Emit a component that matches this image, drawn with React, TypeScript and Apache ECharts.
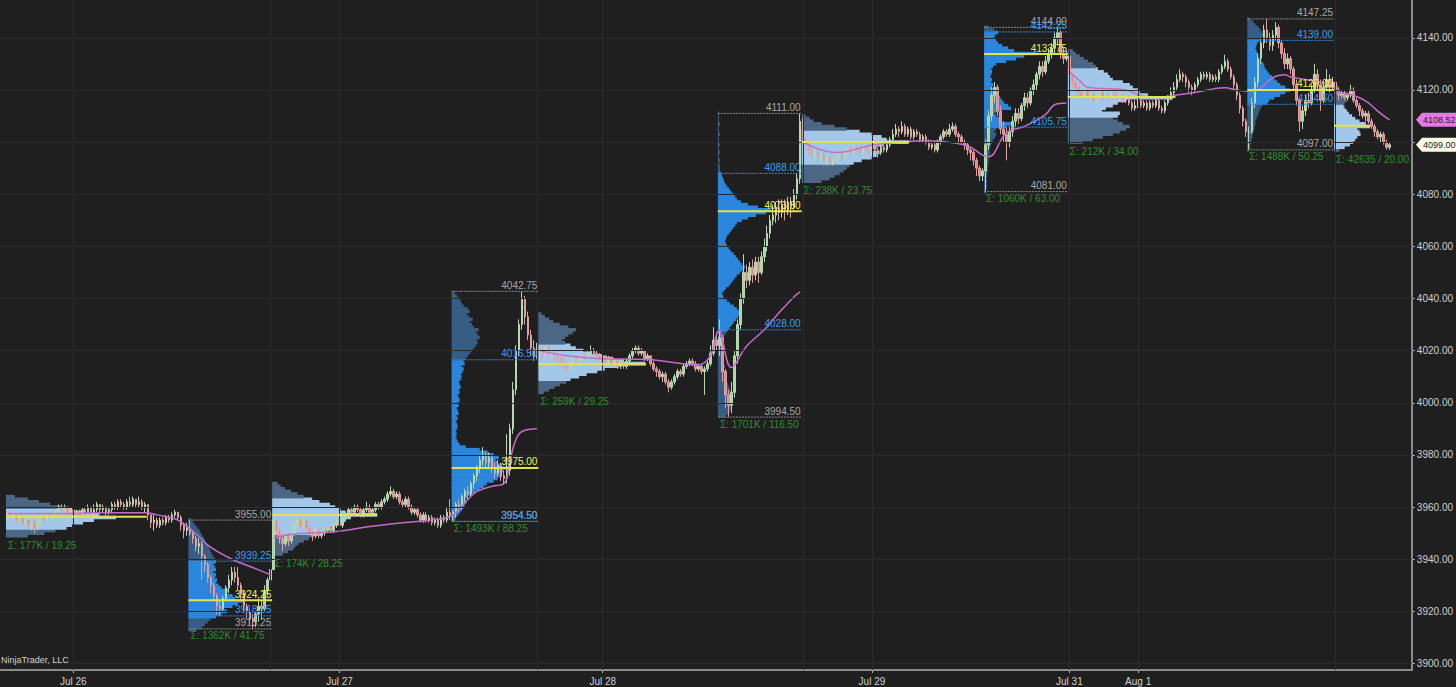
import React, { useEffect, useRef } from 'react';
import * as echarts from 'echarts';

// ---------------- DATA ----------------
const firstOpen = 3956;
// each candle: [close, high, low]; open = previous close
const s1 = [[3957,3958,3955],[3956,3958,3955],[3957,3958,3955],[3955,3957,3954],[3956,3957,3954],[3954,3956,3953],[3955,3956,3953],[3953,3955,3952],[3954,3955,3951],[3952,3955,3950],[3954,3955,3951],[3956,3957,3953],[3955,3957,3954],[3957,3958,3955],[3956,3958,3955],[3957,3958,3955],[3958,3959,3956],[3960,3961,3957],[3959,3961,3958],[3960,3961,3958],[3958,3960,3957],[3959,3960,3957],[3957,3959,3956],[3958,3959,3956],[3957,3959,3956],[3959,3960,3957],[3958,3960,3957],[3960,3961,3957],[3958,3960,3957],[3959,3961,3957],[3961,3962,3958],[3959,3961,3958],[3960,3961,3958],[3958,3960,3956],[3959,3960,3957],[3961,3962,3958],[3960,3962,3959],[3962,3963,3959],[3961,3963,3960],[3960,3962,3959],[3962,3963,3959],[3961,3964,3960],[3963,3964,3960],[3961,3963,3960],[3962,3964,3960],[3960,3963,3959],[3961,3962,3958],[3957,3961,3955],[3954,3957,3952],[3955,3957,3951],[3953,3956,3952],[3955,3956,3952],[3954,3956,3953],[3956,3957,3953],[3955,3957,3954],[3957,3958,3954],[3958,3959,3956],[3956,3958,3955],[3953,3957,3951],[3951,3954,3948],[3952,3954,3949]];
const s2 = [[3950,3955,3949],[3948,3951,3946],[3945,3949,3943],[3946,3948,3942],[3941,3947,3932],[3938,3942,3935],[3933,3939,3931],[3930,3934,3927],[3926,3931,3924],[3922,3927,3919],[3921,3924,3918],[3925,3926,3920],[3929,3930,3924],[3932,3934,3927],[3935,3937,3930],[3933,3937,3931],[3930,3937,3928],[3927,3931,3924],[3922,3928,3920],[3920,3923,3917],[3917,3921,3915],[3916,3919,3913.25],[3919,3920,3914],[3922,3925,3916],[3921,3924,3917],[3928,3930,3920],[3932,3933,3926],[3936,3938,3930]];
const s3 = [[3955,3956,3936],[3951,3955,3949],[3948,3952,3946],[3946,3949,3943],[3949,3950,3945],[3947,3950,3945],[3950,3951,3946],[3953,3954,3949],[3955,3956,3952],[3953,3956,3952],[3955,3956,3952],[3952,3955,3951],[3950,3953,3949],[3949,3951,3947],[3951,3952,3948],[3949,3952,3948],[3950,3951,3948],[3951,3952,3949],[3952,3953,3950],[3951,3953,3950],[3953,3954,3950],[3954,3955,3952],[3953,3955,3952],[3956,3957,3952],[3957,3958,3955],[3959,3960,3956],[3958,3960,3957],[3960,3961,3957],[3959,3961,3958],[3957,3960,3956],[3959,3960,3956],[3960,3962,3958],[3958,3961,3957],[3959,3960,3957],[3961,3962,3958],[3960,3962,3959],[3962,3963,3959],[3963,3964,3961],[3965,3966,3962],[3966,3968,3964],[3964,3967,3963],[3965,3966,3963],[3962,3966,3961],[3961,3963,3960],[3963,3964,3960],[3960,3964,3959],[3958,3961,3957],[3959,3960,3957],[3957,3960,3956],[3955,3958,3954],[3957,3958,3954],[3955,3958,3954],[3956,3957,3954],[3954,3957,3953],[3955,3956,3953],[3953,3956,3952],[3956,3957,3952],[3955,3957,3954],[3958,3960,3954],[3957,3963,3955]];
const s4 = [[3958,3959,3954.5],[3961,3962,3956],[3960,3963,3958],[3964,3965,3959],[3966,3967,3962],[3965,3968,3963],[3969,3970,3964],[3972,3973,3967],[3975,3976,3970],[3978,3980,3973],[3980,3983,3976],[3977,3981,3975],[3979,3981,3975],[3975,3980,3973],[3973,3977,3971],[3976,3978,3972],[3972,3977,3970],[3971,3974,3968.5],[3974,3988,3969],[3990,3992,3972],[4005,4008,3988],[4020,4022,4003],[4030,4032,4018],[4040,4042.75,4028],[4033,4041,4030],[4026,4035,4024],[4021,4028,4018],[4018,4024,4016],[4020,4023,4017]];
const s5 = [[4020,4021,4016],[4019,4021,4017],[4021,4022,4018],[4019,4022,4018],[4020,4021,4018],[4018,4020,4016],[4017,4019,4015],[4016,4018,4014],[4015,4017,4013],[4013,4016,4012],[4015,4016,4012],[4017,4018,4014],[4016,4018,4015],[4017,4018,4015],[4018,4019,4016],[4017,4019,4016],[4019,4020,4016],[4020,4022,4018],[4019,4021,4018],[4018,4020,4017],[4017,4019,4016],[4018,4019,4016],[4016,4018,4015],[4017,4018,4015],[4015,4017,4014],[4016,4017,4014],[4014,4016,4013],[4015,4016,4013],[4014,4016,4013],[4016,4017,4013],[4018,4019,4015],[4020,4021,4017],[4021,4022,4019],[4019,4022,4018],[4020,4021,4018],[4017,4020,4016],[4018,4019,4016],[4015,4018,4014],[4013,4016,4012],[4012,4014,4010],[4010,4013,4009],[4011,4012,4008],[4008,4012,4007],[4006,4009,4004],[4008,4009,4005],[4010,4011,4007],[4012,4013,4009],[4011,4013,4010],[4014,4015,4010],[4015,4016,4013],[4016,4017,4014],[4015,4017,4014],[4013,4016,4012],[4014,4015,4012],[4012,4015,4011],[4013,4014,4003],[4015,4016,4012],[4019,4022,4014],[4024,4029,4018],[4022,4027,4020]];
const s6 = [[4025,4032,4018],[4012,4026,4008],[4003,4013,3998],[3999,4005,3994.5],[4004,4008,3996],[4018,4020,4002],[4030,4032,4015],[4040,4042,4028],[4050,4057,4038],[4047,4053,4044],[4052,4054,4045],[4049,4055,4046],[4054,4056,4047],[4050,4056,4046],[4056,4058,4049],[4060,4063,4054],[4065,4068,4058],[4070,4072,4063],[4072,4076,4068],[4075,4077,4069],[4073,4078,4070],[4076,4078,4071],[4074,4078,4070],[4077,4079,4072],[4075,4079,4071],[4080,4082,4074],[4086,4088,4078],[4108,4111,4084]];
const s7 = [[4101,4109,4099],[4099,4102,4097],[4097,4100,4095],[4095,4098,4093],[4096,4098,4094],[4094,4097,4092],[4095,4096,4092],[4093,4096,4091],[4094,4095,4091],[4092,4095,4091],[4093,4094,4091],[4094,4095,4092],[4095,4096,4093],[4094,4096,4093],[4096,4097,4093],[4097,4098,4095],[4096,4098,4095],[4098,4099,4095],[4097,4099,4096],[4096,4098,4094],[4098,4099,4095],[4097,4099,4096],[4096,4098,4095],[4098,4099,4095],[4097,4099,4096],[4096,4098,4094],[4098,4100,4095],[4097,4099,4096],[4099,4101,4096],[4101,4102,4098],[4103,4105,4100],[4105,4107,4102],[4104,4106,4102],[4106,4108,4103],[4103,4107,4102],[4105,4106,4102],[4102,4106,4101],[4104,4105,4101],[4103,4105,4102],[4101,4104,4100],[4102,4103,4100],[4100,4103,4099],[4098,4101,4097],[4099,4100,4097],[4097,4100,4096],[4100,4101,4096],[4102,4103,4099],[4104,4105,4101],[4103,4105,4102],[4105,4107,4102],[4106,4107.5,4104],[4103,4107,4102],[4102,4104,4100],[4100,4103,4099],[4099,4101,4097],[4097,4100,4095],[4096,4098,4093],[4093,4097,4091],[4090,4094,4087],[4087,4091,4085],[4089,4090,4085]];
const s8 = [[4099,4101,4081],[4110,4112,4097],[4118,4121,4108],[4121,4123,4115],[4112,4122,4110],[4105,4114,4103],[4103,4108,4100],[4100,4106,4093],[4104,4106,4098],[4108,4110,4102],[4111,4113,4106],[4109,4113,4107],[4114,4115,4108],[4117,4119,4112],[4115,4119,4113],[4120,4121,4114],[4122,4124,4118],[4126,4127,4120],[4129,4131,4124],[4127,4131,4125],[4131,4133,4126],[4134,4136,4130],[4136,4138,4132],[4140,4142,4134],[4142,4144,4137],[4134,4143,4132],[4132,4136,4130],[4133,4135,4131]];
const s9 = [[4126,4138,4124],[4123,4127,4121],[4121,4124,4119],[4119,4122,4117],[4118,4120,4116],[4120,4121,4117],[4117,4121,4116],[4118,4119,4116],[4116,4119,4115],[4118,4119,4115],[4119,4120,4117],[4117,4120,4116],[4118,4119,4116],[4117,4119,4116],[4119,4120,4116],[4118,4120,4117],[4117,4119,4116],[4118,4119,4116],[4116,4119,4115],[4117,4118,4115],[4115,4118,4114],[4113,4116,4112],[4114,4116,4112],[4116,4117,4113],[4114,4117,4113],[4115,4116,4113],[4113,4116,4112],[4115,4116,4112],[4114,4116,4113],[4116,4117,4113],[4113,4117,4112],[4112,4114,4111],[4115,4116,4111],[4117,4118,4114],[4119,4121,4116],[4121,4123,4118],[4124,4126,4120],[4126,4128,4123],[4125,4127,4123],[4123,4126,4121],[4121,4124,4119],[4120,4122,4118],[4122,4123,4119],[4124,4125,4121],[4126,4127,4123],[4125,4127,4124],[4126,4127,4124],[4124,4127,4123],[4125,4126,4123],[4124,4126,4123],[4127,4128,4123],[4129,4130,4126],[4131,4133.5,4128],[4128,4132,4127],[4125,4129,4124],[4122,4126,4120],[4118,4123,4116],[4113,4119,4111],[4108,4114,4106],[4104,4109,4102]];
const s10 = [[4104,4106,4097],[4115,4117,4103],[4123,4125,4113],[4132,4134,4121],[4138,4140,4130],[4143,4145,4136],[4140,4147.25,4138],[4137,4142,4135],[4141,4143,4135],[4144,4146,4139],[4138,4145,4136],[4134,4139,4132],[4130,4136,4128],[4132,4134,4128],[4128,4133,4126],[4122,4129,4120],[4116,4124,4114],[4108,4117,4104],[4112,4114,4105],[4116,4118,4110],[4115,4119,4113],[4120,4122,4114],[4126,4130,4119],[4122,4128,4120],[4116,4124,4112],[4121,4123,4115],[4124,4128,4120],[4121,4126,4119],[4123,4125,4120]];
const s11 = [[4120,4124,4118],[4118,4121,4116],[4119,4120,4117],[4117,4120,4116],[4118,4119,4116],[4120,4122,4117],[4116,4121,4115],[4114,4117,4113],[4112,4115,4110],[4110,4113,4109],[4111,4112,4108],[4108,4112,4107],[4106,4109,4105],[4104,4107,4102],[4102,4105,4101],[4103,4104,4100],[4100,4104,4099],[4098,4101,4097],[4099,4100,4097]];
const sessionCandles = [s1, s2, s3, s4, s5, s6, s7, s8, s9, s10, s11];

// volume profiles: 1-point rows from profileLows upward
const profileKinds = ['ETH','RTH','ETH','RTH','ETH','RTH','ETH','RTH','ETH','RTH','ETH'];
const profileLows = [3949, 3913, 3942, 3955, 4004, 3995, 4085, 4081, 4100, 4097, 4097];
const p1 = [20,35,45,55,60,70,80,100,85,70,60,50,40,30,20,8];
const p2 = [15,25,30,35,40,50,60,70,65,80,90,100,85,80,70,72,60,55,50,52,48,50,45,50,48,45,50,48,45,42,40,38,36,32,30,28,25,22,20,16,12,8,5];
const p3 = [10,15,20,22,25,30,35,40,45,50,55,60,65,70,75,100,70,65,60,55,45,38,30,24,18,12,8,5];
const p4 = [3,4,6,8,10,12,13,15,14,16,20,24,28,32,35,42,46,50,48,52,57,50,46,44,47,42,36,28,14,8,6,5,4,5,4,5,6,5,4,6,5,7,6,5,7,6,8,7,6,8,7,9,8,7,9,10,9,11,12,10,13,12,14,16,18,20,22,24,26,25,28,26,24,27,22,20,18,21,17,15,18,16,12,10,9,7,5,3];
const p5 = [5,10,15,20,26,30,38,45,55,62,75,100,80,70,60,50,42,35,30,25,22,25,28,32,35,28,20,14,10,6,3];
const p6 = [8,10,12,13,12,14,15,13,12,14,12,11,10,9,8,7,8,7,6,7,6,5,6,5,5,4,5,4,5,6,5,7,8,10,12,14,16,18,20,22,21,19,16,12,9,6,5,4,6,8,11,13,15,17,19,22,25,27,24,22,20,18,16,13,11,9,8,7,8,9,11,13,15,17,19,24,30,38,48,53,40,30,23,19,17,15,13,11,9,7,6,5,4,3,2,2,2,1,2,1,1,2,1,1,2,1,1,1,2,1,1,1,2,1,1,1,1];
const p7 = [20,28,33,38,42,45,48,52,60,70,75,78,70,75,82,107,85,80,70,58,45,33,20,12,8,4];
const p8 = [2,2,3,2,3,2,3,3,4,3,4,4,5,4,5,6,5,6,7,8,9,11,12,10,12,22,28,18,15,12,10,14,27,24,20,18,16,14,13,10,8,9,7,8,6,7,8,7,9,12,22,32,40,53,30,24,18,14,12,10,11,14,10,5];
const p9 = [15,25,35,45,52,58,62,55,50,45,50,52,34,38,45,50,58,105,80,72,70,65,62,55,45,42,40,36,30,28,25,20,16,12,8,5];
const p10 = [2,3,3,4,4,5,5,6,7,7,8,8,9,10,11,12,13,15,20,22,27,33,38,43,38,33,30,27,25,22,20,18,17,16,14,12,11,10,9,8,9,10,12,14,16,15,13,11,8,6,3];
const p11 = [5,10,15,18,20,22,25,24,22,34,30,24,20,17,14,12,10,9,10,12,10,8,6,5,4,2];
const profileVolumes = [p1, p2, p3, p4, p5, p6, p7, p8, p9, p10, p11];
const valueAreaLow = [3952, 3918.25, 3950, 3954.5, 4009, 4028, 4092, 4105.75, 4110, 4114.5, 4098];
const valueAreaHigh = [3959, 3939.25, 3963, 4016.5, 4022, 4088, 4104, 4142.25, 4128, 4139, 4114];
const pocPrices = [3956.25, 3924.25, 3957, 3975, 4014.75, 4073.5, 4100, 4133.75, 4117.25, 4120, 4106.25];
const sessionHighs = [null, 3955, null, 4042.75, null, 4111, null, 4144, null, 4147.25, null];
const sessionLows = [null, 3913.25, null, 3954.5, null, 3994.5, null, 4081, null, 4097, null];
const ethPocBars = [47, 0, 35, 0, 36, 0, 36, 0, 36, 0, 12];
const profileTotals = ['Σ: 177K / 19.25','Σ: 1362K / 41.75','Σ: 174K / 28.25','Σ: 1493K / 88.25','Σ: 259K / 29.25','Σ: 1701K / 116.50','Σ: 238K / 23.75','Σ: 1060K / 63.00','Σ: 212K / 34.00','Σ: 1488K / 50.25','Σ: 42635 / 20.00'];

// session VWAP, [bar index, value]
const vwapA = [[2,3957.5],[19,3957.5],[36,3957.8],[48,3957.8],[52,3957],[59,3955],[66,3948.7],[70,3944.5],[77,3940],[84,3936.8],[90,3934]];
const vwapB = [[91,3948],[96,3949.5],[112,3950.6],[123,3952.5],[134,3954],[145,3955.2],[150,3956.4],[153,3959],[156,3963],[159,3966],[164,3968],[168,3969],[170,3978],[172,3986],[174,3989],[179,3990]];
const vwapC = [[180,4020],[189,4018],[199,4017],[216,4016.6],[233,4014.6],[237,4018],[239,4026],[240,4028],[241,4024],[244,4013.5],[249,4021.6],[255,4028],[260,4034.6],[265,4040.7],[267,4042.5]];
const vwapD = [[268,4100],[274,4097],[279,4096],[292,4099],[309,4100.5],[319,4099.6],[324,4098],[328,4095],[330,4094.4],[336,4103.6],[342,4106],[349,4110.5],[352,4114.3],[356,4115]];
const vwapE = [[357,4127],[361,4123],[363,4121],[376,4120],[382,4117.5],[389,4117.4],[392,4118],[399,4119],[409,4120.8],[413,4120],[417,4119.5],[420,4120],[425,4124.7],[429,4125.8],[431,4125],[436,4124],[442,4122.8],[445,4122.4]];
const vwapF = [[446,4119],[450,4118.5],[454,4117],[457,4115],[460,4112],[464,4108.52]];
const vwapSegments = [vwapA, vwapB, vwapC, vwapD, vwapE, vwapF];

const dateTicks: [number, string][] = [[24,'Jul 26'],[113,'Jul 27'],[201,'Jul 28'],[291,'Jul 29'],[357,'Jul 31'],[380,'Aug 1']];
const sessionBreaks = [90, 179, 268, 357, 446];
const priceTicks = [3900,3920,3940,3960,3980,4000,4020,4040,4060,4080,4100,4120,4140];
// the 4100.00 label sits under the last-price tag in the reference
const priceLabels = [3900,3920,3940,3960,3980,4000,4020,4040,4060,4080,4120,4140];
const lastVwap = 4108.52;
const lastPrice = 4099.0;

// ---------------- STYLE ----------------
const TOTAL = 472;
const FIRST = 2;
const profileMaxWidth = [110, 55, 105, 57, 107, 53, 107, 53, 105, 43, 36];
const FONT = '"Liberation Sans", Arial, sans-serif';

export default function App() {
  const ref = useRef<HTMLDivElement>(null);
  useEffect(() => {
    if (!ref.current) return;
    const chart = echarts.init(ref.current, undefined, { renderer: 'svg' });

    const candles: any[] = Array.from({ length: TOTAL }, () => ['-', '-', '-', '-']);
    const sessionStart: number[] = [];
    const sessionEnd: number[] = [];
    let idx = FIRST;
    let prev = firstOpen;
    sessionCandles.forEach((s) => {
      sessionStart.push(idx);
      s.forEach(([c, h, l]) => {
        const o = prev;
        candles[idx] = [o, c, Math.min(l, o, c), Math.max(h, o, c)];
        prev = c;
        idx++;
      });
      sessionEnd.push(idx - 1);
    });

    const dateMap = new Map<number, string>(dateTicks);
    const categories = Array.from({ length: TOTAL }, (_, i) => String(i));
    const vLines = [...sessionBreaks, ...dateTicks.map((d) => d[0])];

    const profileSeries: any = {
      type: 'custom',
      z: 1,
      silent: true,
      clip: true,
      data: profileLows.map((lo, i) => [sessionStart[i], lo, i]),
      encode: { x: 0, y: 1 },
      renderItem: (params: any, api: any) => {
        const i = api.value(2);
        const vols = profileVolumes[i];
        const lo = profileLows[i];
        const bw = api.size([1, 0])[0];
        const left = api.coord([sessionStart[i], lo])[0] - bw / 2;
        const maxV = Math.max(...vols);
        const rth = profileKinds[i] === 'RTH';
        const children = vols.map((v, j) => {
          const price = lo + j;
          const yTop = api.coord([sessionStart[i], price + 0.5])[1];
          const yBot = api.coord([sessionStart[i], price - 0.5])[1];
          const inVA = price >= valueAreaLow[i] - 0.3 && price <= valueAreaHigh[i] + 0.3;
          const fill = rth ? (inVA ? '#2b86dc' : '#365d84') : (inVA ? '#a2c7e8' : '#4c6783');
          return {
            type: 'rect',
            shape: { x: left, y: yTop - 0.5, width: (v / maxV) * profileMaxWidth[i], height: yBot - yTop + 1 },
            style: { fill },
          };
        });
        return { type: 'group', children };
      },
      markLine: {
        silent: true,
        symbol: 'none',
        label: { show: false },
        lineStyle: { color: '#2b2b2b', width: 1, type: 'solid' },
        data: [...priceTicks.map((v) => ({ yAxis: v })), ...vLines.map((x) => ({ xAxis: x }))],
      },
    };

    const txt = (x: number, y: number, text: string, fill: string, align: string, vAlign: string) => ({
      type: 'text',
      x,
      y,
      style: { text, fill, font: `10px ${FONT}`, align, verticalAlign: vAlign },
    });
    const ln = (x1: number, x2: number, y: number, stroke: string, w: number, dash?: number[]) => ({
      type: 'line',
      shape: { x1, y1: y, x2, y2: y },
      style: { stroke, lineWidth: w, lineDash: dash },
    });

    const overlaySeries: any = {
      type: 'custom',
      z: 5,
      silent: true,
      data: profileLows.map((lo, i) => [sessionStart[i], lo, i]),
      encode: { x: 0, y: 1 },
      renderItem: (params: any, api: any) => {
        const i = api.value(2);
        const bw = api.size([1, 0])[0];
        const X = (k: number) => api.coord([k, profileLows[i]])[0];
        const Y = (p: number) => api.coord([sessionStart[i], p])[1];
        const left = X(sessionStart[i]) - bw / 2;
        const right = X(sessionEnd[i]) + bw / 2;
        const children: any[] = [];
        if (profileKinds[i] === 'RTH') {
          const hi = sessionHighs[i] as number;
          const lo = sessionLows[i] as number;
          children.push(ln(left, right, Y(hi), '#8a8a8a', 1, [2, 1]));
          children.push(ln(left, right, Y(lo), '#8a8a8a', 1, [2, 1]));
          children.push(ln(left, right, Y(valueAreaHigh[i]), '#2f86d8', 1, [2, 1]));
          children.push(ln(left, right, Y(valueAreaLow[i]), '#2f86d8', 1, [2, 1]));
          children.push(ln(left, right, Y(pocPrices[i]), '#e2e24e', 2));
          children.push(txt(right - 1, Y(hi) - 1, hi.toFixed(2), '#a8a8a8', 'right', 'bottom'));
          children.push(txt(right - 1, Y(lo) - 1, lo.toFixed(2), '#a8a8a8', 'right', 'bottom'));
          children.push(txt(right - 1, Y(valueAreaHigh[i]) - 1, valueAreaHigh[i].toFixed(2), '#3d9cf2', 'right', 'bottom'));
          children.push(txt(right - 1, Y(valueAreaLow[i]) - 1, valueAreaLow[i].toFixed(2), '#3d9cf2', 'right', 'bottom'));
          children.push(txt(right - 1, Y(pocPrices[i]) - 1, pocPrices[i].toFixed(2), '#f2f24a', 'right', 'bottom'));
          children.push(txt(left + 2, Y(lo) + 2, profileTotals[i], '#2f8c2f', 'left', 'top'));
        } else {
          const pocEnd = X(sessionStart[i] + ethPocBars[i] - 1) + bw / 2;
          children.push(ln(left, pocEnd, Y(pocPrices[i]), '#e2e24e', 2));
          children.push(txt(left + 2, Y(profileLows[i] - 0.5) + 3, profileTotals[i], '#2f8c2f', 'left', 'top'));
        }
        return { type: 'group', children };
      },
    };

    const option: any = {
      animation: false,
      backgroundColor: '#1f1f1f',
      grid: { left: 0, right: 38, top: 0, bottom: 17 },
      xAxis: {
        type: 'category',
        data: categories,
        boundaryGap: true,
        axisLine: { lineStyle: { color: '#8c8c8c', width: 2 } },
        axisTick: { show: true, alignWithLabel: true, length: 3, interval: (i: number) => dateMap.has(i), lineStyle: { color: '#b0b0b0' } },
        axisLabel: {
          interval: (i: number) => dateMap.has(i),
          formatter: (_v: string, i: number) => dateMap.get(i) ?? '',
          color: '#d0d0d0',
          fontSize: 10,
          fontFamily: FONT,
          margin: 6,
        },
        splitLine: { show: false },
      },
      yAxis: {
        type: 'value',
        position: 'right',
        min: 3897.5,
        max: 4154.5,
        axisLine: { show: true, lineStyle: { color: '#8c8c8c', width: 2 } },
        axisTick: { show: true, length: 3, customValues: priceTicks, lineStyle: { color: '#b0b0b0' } },
        axisLabel: {
          customValues: priceLabels,
          formatter: (v: number) => v.toFixed(2),
          color: '#d0d0d0',
          fontSize: 10,
          fontFamily: FONT,
          margin: 5,
        },
        splitLine: { show: false },
      },
      series: [
        profileSeries,
        {
          type: 'candlestick',
          z: 3,
          silent: true,
          barWidth: 2,
          data: candles,
          itemStyle: {
            color: '#9edb9a',
            color0: '#e8878b',
            borderColor: '#b8d8b4',
            borderColor0: '#e0a0a2',
            borderWidth: 1,
          },
        },
        ...vwapSegments.map((seg) => ({
          type: 'line',
          z: 4,
          silent: true,
          data: seg,
          smooth: 0.4,
          symbol: 'none',
          lineStyle: { color: '#c76bc9', width: 1.5 },
        })),
        overlaySeries,
      ],
    };
    chart.setOption(option);

    const yV = chart.convertToPixel({ yAxisIndex: 0 }, lastVwap) as number;
    const yL = chart.convertToPixel({ yAxisIndex: 0 }, lastPrice) as number;
    const tag = (y: number, fill: string, color: string, text: string) => ({
      type: 'group',
      z: 100,
      children: [
        { type: 'polygon', shape: { points: [[1416, y], [1422, y - 7], [1456, y - 7], [1456, y + 7], [1422, y + 7]] }, style: { fill } },
        { type: 'text', x: 1423, y, style: { text, fill: color, font: `9px ${FONT}`, verticalAlign: 'middle' } },
      ],
    });
    chart.setOption({
      graphic: [
        { type: 'text', left: 1, top: 655, z: 100, style: { text: 'NinjaTrader, LLC', fill: '#d4d4d4', font: `9px ${FONT}` } },
        tag(yV, '#e07ddf', '#3a103a', lastVwap.toFixed(2)),
        tag(yL, '#fffde6', '#222222', lastPrice.toFixed(2)),
      ],
    });

    return () => chart.dispose();
  }, []);
  return <div ref={ref} style={{ position: 'fixed', left: 0, top: 0, width: 1456, height: 687 }} />;
}
